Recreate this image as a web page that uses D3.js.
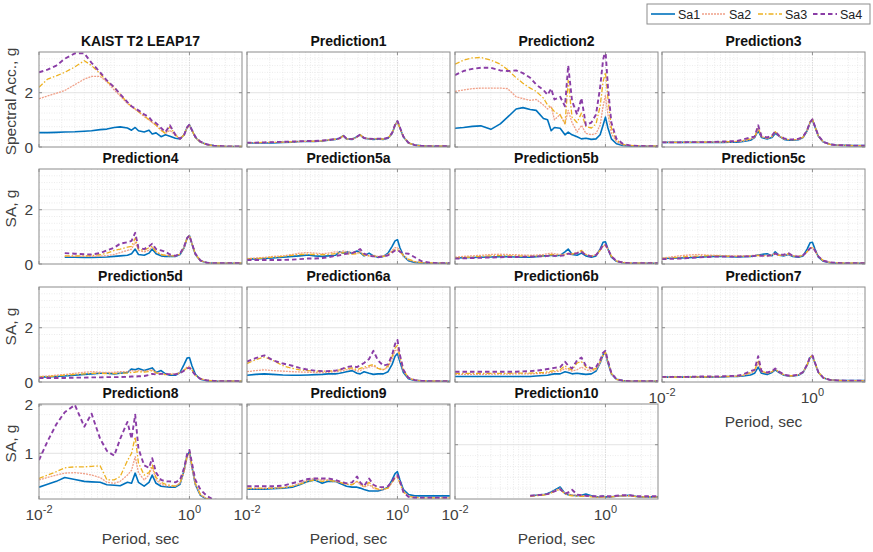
<!DOCTYPE html>
<html><head><meta charset="utf-8">
<script src="https://cdn.jsdelivr.net/npm/d3@7"></script>
<style>
html,body{margin:0;padding:0;background:#fff;}
svg{display:block;font-family:"Liberation Sans",Arial,Helvetica,sans-serif;}
</style></head>
<body><svg id="c" width="873" height="552"></svg>
<script>
// ---------------- data ----------------
const periods = [0.01,0.013,0.017,0.022,0.03,0.04,0.05,0.065,0.08,0.1,0.12,0.15,0.17,0.19,0.21,0.25,0.29,0.32,0.36,0.42,0.48,0.55,0.65,0.75,0.85,0.93,1.0,1.08,1.2,1.4,1.7,2.1,2.7,3.5,5.0];
const seriesNames = ["Sa1","Sa2","Sa3","Sa4"];
const panelTitles = ["KAIST T2 LEAP17","Prediction1","Prediction2","Prediction3",
  "Prediction4","Prediction5a","Prediction5b","Prediction5c",
  "Prediction5d","Prediction6a","Prediction6b","Prediction7",
  "Prediction8","Prediction9","Prediction10"];
const xTickValues = [0.01, 1];
const yTicksUpper = [0, 2];
const yTicksLower = [1, 2];

const kaist = [
 [0.53,0.53,0.54,0.55,0.56,0.58,0.60,0.64,0.66,0.72,0.74,0.70,0.62,0.72,0.60,0.55,0.62,0.48,0.52,0.38,0.45,0.40,0.32,0.30,0.45,0.72,0.82,0.62,0.35,0.18,0.09,0.05,0.03,0.02,0.02],
 [1.78,1.88,1.98,2.08,2.30,2.50,2.60,2.60,2.40,2.10,1.88,1.60,1.48,1.38,1.30,1.12,1.00,0.90,0.80,0.62,0.50,0.62,0.42,0.30,0.45,0.70,0.80,0.62,0.35,0.18,0.09,0.05,0.03,0.02,0.02],
 [2.20,2.50,2.62,2.75,2.95,3.18,3.00,2.70,2.42,2.20,1.95,1.62,1.50,1.40,1.30,1.15,1.00,0.92,0.80,0.62,0.50,0.75,0.45,0.30,0.45,0.72,0.80,0.62,0.35,0.18,0.09,0.05,0.03,0.02,0.02],
 [2.75,2.85,3.00,3.25,3.45,3.45,3.10,2.75,2.45,2.20,1.95,1.65,1.50,1.42,1.35,1.20,1.10,0.95,0.88,0.70,0.55,0.80,0.45,0.30,0.45,0.72,0.82,0.62,0.38,0.20,0.10,0.05,0.03,0.02,0.02]];
const pred1 = [
 [0.15,0.15,0.15,0.15,0.17,0.18,0.20,0.20,0.20,0.22,0.25,0.28,0.32,0.42,0.30,0.28,0.38,0.45,0.32,0.30,0.28,0.30,0.28,0.32,0.50,0.80,0.95,0.70,0.38,0.15,0.07,0.04,0.03,0.03,0.03],
 [0.16,0.16,0.16,0.17,0.18,0.19,0.20,0.21,0.21,0.23,0.25,0.28,0.30,0.40,0.30,0.28,0.36,0.44,0.32,0.30,0.30,0.30,0.29,0.33,0.50,0.80,0.93,0.70,0.38,0.15,0.07,0.04,0.03,0.03,0.03],
 [0.16,0.16,0.17,0.17,0.18,0.19,0.21,0.21,0.22,0.23,0.26,0.29,0.31,0.41,0.30,0.29,0.37,0.45,0.33,0.31,0.30,0.31,0.29,0.33,0.52,0.82,0.95,0.70,0.38,0.15,0.07,0.04,0.03,0.03,0.03],
 [0.16,0.16,0.17,0.18,0.19,0.20,0.21,0.22,0.22,0.24,0.26,0.29,0.32,0.43,0.31,0.29,0.38,0.46,0.33,0.31,0.30,0.31,0.30,0.34,0.52,0.82,0.96,0.72,0.38,0.16,0.07,0.04,0.03,0.03,0.03]];
const pred2 = [
 [0.69,0.72,0.76,0.78,0.65,0.85,1.10,1.40,1.45,1.38,1.35,1.05,1.00,0.60,0.72,0.69,0.45,0.55,0.45,0.38,0.30,0.32,0.28,0.30,0.45,0.80,1.10,0.70,0.30,0.12,0.06,0.04,0.03,0.03,0.03],
 [2.05,2.10,2.15,2.17,2.17,2.17,2.15,1.85,1.78,1.72,1.75,1.55,1.40,1.50,1.00,1.20,0.85,1.35,0.90,0.55,0.80,0.50,0.45,0.50,0.80,1.50,1.90,1.20,0.50,0.20,0.08,0.05,0.04,0.03,0.03],
 [3.05,3.20,3.28,3.30,3.20,3.05,2.85,2.55,2.35,2.17,2.05,1.80,1.55,1.45,1.30,1.18,0.85,2.45,1.10,0.90,1.25,0.75,0.70,0.85,1.50,2.40,2.75,1.80,0.70,0.25,0.10,0.06,0.04,0.03,0.03],
 [2.65,2.80,2.88,2.92,2.92,2.82,2.80,2.82,2.72,2.55,2.30,2.10,1.92,2.15,1.75,1.85,1.50,3.00,1.70,1.20,1.80,0.80,0.90,1.20,2.20,3.20,3.60,2.20,0.90,0.30,0.12,0.06,0.04,0.03,0.03]];
const pred3 = [
 [0.17,0.17,0.17,0.17,0.17,0.17,0.17,0.17,0.18,0.18,0.20,0.25,0.35,0.60,0.35,0.30,0.35,0.50,0.40,0.28,0.25,0.25,0.27,0.35,0.60,0.90,1.00,0.75,0.40,0.18,0.10,0.07,0.06,0.05,0.05],
 [0.17,0.17,0.17,0.17,0.17,0.18,0.18,0.18,0.19,0.20,0.22,0.28,0.35,0.65,0.38,0.32,0.38,0.55,0.40,0.30,0.27,0.27,0.28,0.36,0.60,0.90,1.00,0.75,0.40,0.18,0.10,0.07,0.06,0.05,0.05],
 [0.17,0.17,0.17,0.17,0.18,0.18,0.18,0.19,0.20,0.21,0.24,0.30,0.36,0.70,0.38,0.33,0.40,0.56,0.42,0.30,0.27,0.27,0.28,0.36,0.62,0.92,1.02,0.76,0.40,0.18,0.10,0.07,0.06,0.05,0.05],
 [0.17,0.17,0.17,0.18,0.18,0.18,0.19,0.20,0.21,0.22,0.28,0.35,0.38,0.80,0.40,0.35,0.42,0.58,0.42,0.32,0.28,0.28,0.30,0.38,0.62,0.92,1.02,0.76,0.42,0.19,0.10,0.07,0.06,0.05,0.05]];
const pred4 = [
 [null,null,null,0.25,0.25,0.24,0.24,0.25,0.26,0.28,0.30,0.32,0.38,0.55,0.35,0.32,0.40,0.55,0.38,0.30,0.28,0.28,0.28,0.35,0.60,0.95,1.05,0.75,0.35,0.12,0.05,0.03,0.03,0.03,0.03],
 [null,null,null,0.28,0.28,0.28,0.28,0.29,0.31,0.35,0.42,0.50,0.55,0.80,0.50,0.45,0.50,0.62,0.45,0.35,0.32,0.30,0.30,0.36,0.60,0.95,1.05,0.75,0.35,0.12,0.05,0.03,0.03,0.03,0.03],
 [null,null,null,0.30,0.30,0.30,0.31,0.34,0.40,0.50,0.55,0.62,0.65,0.95,0.55,0.50,0.60,0.65,0.45,0.35,0.32,0.30,0.30,0.36,0.62,0.95,1.05,0.75,0.36,0.12,0.05,0.03,0.03,0.03,0.03],
 [null,null,null,0.40,0.38,0.36,0.35,0.40,0.50,0.60,0.75,0.80,0.85,1.15,0.60,0.55,0.65,0.75,0.55,0.50,0.45,0.35,0.30,0.38,0.65,0.95,1.05,0.75,0.38,0.13,0.05,0.03,0.03,0.03,0.03]];
const pred5a = [
 [0.18,0.19,0.20,0.22,0.25,0.28,0.30,0.33,0.30,0.28,0.30,0.32,0.45,0.40,0.45,0.40,0.48,0.42,0.30,0.40,0.30,0.25,0.28,0.40,0.65,0.85,0.90,0.60,0.30,0.12,0.06,0.04,0.03,0.03,0.03],
 [0.20,0.22,0.24,0.28,0.30,0.35,0.40,0.42,0.40,0.38,0.40,0.45,0.42,0.48,0.45,0.42,0.40,0.45,0.35,0.30,0.32,0.28,0.30,0.35,0.50,0.60,0.60,0.50,0.30,0.15,0.08,0.05,0.04,0.03,0.03],
 [0.18,0.20,0.22,0.25,0.28,0.32,0.35,0.36,0.35,0.34,0.35,0.38,0.40,0.42,0.38,0.36,0.38,0.42,0.32,0.30,0.30,0.26,0.28,0.33,0.45,0.52,0.52,0.45,0.32,0.18,0.09,0.05,0.04,0.03,0.03],
 [0.15,0.15,0.15,0.15,0.15,0.16,0.18,0.20,0.20,0.22,0.25,0.30,0.32,0.35,0.38,0.40,0.48,0.55,0.38,0.30,0.28,0.25,0.28,0.32,0.42,0.50,0.52,0.45,0.40,0.38,0.25,0.10,0.05,0.03,0.03]];
const pred5b = [
 [0.22,0.23,0.24,0.25,0.26,0.27,0.27,0.26,0.25,0.25,0.27,0.30,0.30,0.32,0.30,0.32,0.45,0.55,0.35,0.32,0.40,0.30,0.25,0.30,0.55,0.80,0.82,0.55,0.25,0.10,0.05,0.03,0.03,0.03,0.03],
 [0.25,0.28,0.30,0.32,0.35,0.36,0.35,0.34,0.33,0.32,0.33,0.35,0.38,0.40,0.38,0.35,0.35,0.40,0.38,0.42,0.45,0.35,0.30,0.35,0.50,0.65,0.68,0.55,0.30,0.12,0.06,0.04,0.03,0.03,0.03],
 [0.22,0.24,0.26,0.28,0.30,0.31,0.30,0.30,0.29,0.28,0.29,0.30,0.32,0.35,0.33,0.32,0.33,0.38,0.36,0.42,0.50,0.35,0.28,0.33,0.50,0.68,0.70,0.55,0.28,0.11,0.05,0.03,0.03,0.03,0.03],
 [0.20,0.21,0.22,0.23,0.24,0.25,0.26,0.26,0.27,0.27,0.28,0.28,0.30,0.32,0.30,0.30,0.32,0.38,0.35,0.40,0.45,0.33,0.28,0.33,0.52,0.70,0.72,0.55,0.28,0.11,0.05,0.03,0.03,0.03,0.03]];
const pred5c = [
 [0.20,0.21,0.22,0.23,0.25,0.27,0.28,0.28,0.27,0.26,0.27,0.28,0.30,0.33,0.35,0.38,0.30,0.45,0.32,0.30,0.35,0.28,0.25,0.30,0.55,0.78,0.80,0.55,0.25,0.10,0.05,0.03,0.03,0.03,0.03],
 [0.22,0.26,0.30,0.33,0.35,0.33,0.32,0.31,0.30,0.30,0.30,0.31,0.32,0.33,0.32,0.32,0.33,0.40,0.33,0.32,0.35,0.30,0.28,0.32,0.45,0.58,0.62,0.50,0.28,0.12,0.06,0.04,0.03,0.03,0.03],
 [0.20,0.22,0.25,0.27,0.29,0.30,0.30,0.29,0.28,0.28,0.28,0.29,0.30,0.32,0.30,0.30,0.32,0.38,0.32,0.33,0.38,0.30,0.27,0.32,0.45,0.58,0.60,0.50,0.28,0.12,0.06,0.04,0.03,0.03,0.03],
 [0.18,0.19,0.20,0.22,0.24,0.26,0.27,0.27,0.27,0.27,0.28,0.28,0.30,0.32,0.30,0.30,0.32,0.38,0.33,0.35,0.40,0.30,0.27,0.32,0.45,0.58,0.60,0.50,0.28,0.12,0.06,0.04,0.03,0.03,0.03]];
const pred5d = [
 [0.18,0.19,0.20,0.22,0.25,0.28,0.30,0.32,0.32,0.30,0.32,0.35,0.48,0.45,0.50,0.42,0.48,0.52,0.35,0.42,0.30,0.25,0.25,0.35,0.65,0.88,0.90,0.60,0.28,0.10,0.05,0.03,0.03,0.03,0.03],
 [0.20,0.22,0.25,0.28,0.32,0.36,0.38,0.36,0.35,0.36,0.38,0.38,0.42,0.40,0.42,0.40,0.42,0.45,0.35,0.32,0.28,0.30,0.30,0.35,0.45,0.55,0.58,0.45,0.25,0.12,0.06,0.04,0.03,0.03,0.03],
 [0.18,0.20,0.22,0.25,0.28,0.30,0.32,0.32,0.31,0.31,0.32,0.33,0.35,0.36,0.38,0.36,0.38,0.42,0.33,0.30,0.27,0.28,0.28,0.33,0.42,0.52,0.55,0.45,0.25,0.12,0.06,0.04,0.03,0.03,0.03],
 [0.15,0.15,0.15,0.15,0.16,0.16,0.17,0.17,0.18,0.18,0.18,0.19,0.20,0.20,0.21,0.22,0.26,0.30,0.28,0.30,0.30,0.28,0.28,0.32,0.42,0.50,0.52,0.42,0.25,0.12,0.06,0.04,0.03,0.03,0.03]];
const pred6a = [
 [0.25,0.28,0.30,0.28,0.26,0.25,0.25,0.26,0.27,0.28,0.30,0.30,0.32,0.35,0.38,0.42,0.32,0.30,0.38,0.32,0.28,0.30,0.30,0.38,0.65,0.95,1.05,0.75,0.35,0.12,0.06,0.04,0.03,0.03,0.03],
 [0.38,0.42,0.45,0.42,0.40,0.38,0.37,0.36,0.35,0.35,0.36,0.38,0.40,0.42,0.45,0.48,0.40,0.42,0.50,0.55,0.60,0.50,0.45,0.55,0.85,1.15,1.20,0.85,0.40,0.15,0.07,0.04,0.03,0.03,0.03],
 [0.68,0.82,0.92,0.80,0.60,0.50,0.45,0.42,0.40,0.40,0.40,0.42,0.45,0.48,0.50,0.52,0.45,0.50,0.55,0.60,0.65,0.50,0.45,0.60,0.95,1.25,1.35,0.95,0.45,0.15,0.07,0.04,0.03,0.03,0.03],
 [0.75,0.88,0.98,0.80,0.68,0.60,0.52,0.45,0.42,0.40,0.40,0.42,0.45,0.50,0.55,0.58,0.55,0.62,0.70,0.85,1.15,0.80,0.60,0.65,1.00,1.40,1.55,1.00,0.45,0.16,0.07,0.04,0.03,0.03,0.03]];
const pred6b = [
 [0.20,0.20,0.20,0.20,0.20,0.20,0.20,0.20,0.20,0.20,0.22,0.24,0.25,0.28,0.30,0.30,0.38,0.35,0.30,0.32,0.30,0.28,0.30,0.40,0.70,1.00,1.08,0.70,0.30,0.10,0.05,0.03,0.03,0.03,0.03],
 [0.28,0.28,0.28,0.28,0.29,0.29,0.29,0.30,0.30,0.30,0.31,0.32,0.33,0.35,0.38,0.40,0.50,0.45,0.40,0.45,0.55,0.45,0.40,0.45,0.70,0.98,1.05,0.72,0.30,0.10,0.05,0.03,0.03,0.03,0.03],
 [0.32,0.32,0.32,0.32,0.32,0.32,0.32,0.33,0.33,0.33,0.34,0.35,0.37,0.40,0.42,0.45,0.60,0.50,0.45,0.70,0.75,0.55,0.45,0.50,0.75,1.02,1.10,0.75,0.32,0.10,0.05,0.03,0.03,0.03,0.03],
 [0.38,0.38,0.38,0.38,0.38,0.38,0.38,0.38,0.39,0.40,0.42,0.45,0.48,0.50,0.52,0.55,0.75,0.60,0.50,0.80,0.90,0.60,0.50,0.55,0.80,1.08,1.15,0.78,0.33,0.10,0.05,0.03,0.03,0.03,0.03]];
const pred7 = [
 [0.18,0.18,0.18,0.18,0.18,0.18,0.19,0.19,0.20,0.20,0.22,0.26,0.32,0.55,0.32,0.28,0.35,0.45,0.35,0.25,0.22,0.22,0.25,0.35,0.62,0.90,0.95,0.70,0.35,0.15,0.08,0.06,0.05,0.05,0.05],
 [0.18,0.18,0.18,0.18,0.18,0.19,0.19,0.20,0.20,0.21,0.24,0.32,0.40,0.70,0.38,0.32,0.38,0.48,0.36,0.26,0.23,0.23,0.26,0.36,0.62,0.90,0.95,0.70,0.35,0.15,0.08,0.06,0.05,0.05,0.05],
 [0.18,0.18,0.18,0.19,0.19,0.19,0.20,0.20,0.21,0.22,0.25,0.35,0.42,0.80,0.40,0.33,0.38,0.48,0.36,0.26,0.23,0.23,0.26,0.36,0.63,0.92,0.97,0.72,0.36,0.15,0.08,0.06,0.05,0.05,0.05],
 [0.19,0.19,0.19,0.19,0.20,0.20,0.20,0.21,0.22,0.23,0.28,0.40,0.45,0.95,0.40,0.35,0.40,0.50,0.38,0.27,0.24,0.24,0.27,0.37,0.64,0.93,0.98,0.72,0.36,0.15,0.08,0.06,0.05,0.05,0.05]];
const pred8 = [
 [0.30,0.36,0.42,0.50,0.46,0.42,0.41,0.40,0.35,0.34,0.33,0.40,0.38,0.59,0.40,0.32,0.40,0.55,0.38,0.32,0.31,0.30,0.30,0.36,0.65,0.95,1.03,0.72,0.35,0.13,0.05,0.03,0.03,0.03,0.03],
 [0.45,0.50,0.55,0.59,0.60,0.58,0.55,0.50,0.40,0.38,0.42,0.55,0.65,0.93,0.60,0.45,0.55,0.72,0.45,0.36,0.33,0.32,0.32,0.38,0.62,0.90,0.98,0.70,0.35,0.14,0.06,0.03,0.03,0.03,0.03],
 [0.48,0.55,0.62,0.70,0.72,0.72,0.73,0.74,0.45,0.45,0.52,0.85,1.00,1.34,0.80,0.55,0.60,0.76,0.50,0.40,0.36,0.34,0.32,0.38,0.65,0.95,1.05,0.75,0.38,0.15,0.06,0.03,0.03,0.03,0.03],
 [0.86,1.25,1.60,1.85,2.00,1.55,1.82,1.30,1.05,0.95,1.30,1.65,1.30,1.80,1.10,0.75,0.70,0.90,0.60,0.45,0.42,0.42,0.40,0.45,0.70,0.98,1.07,0.80,0.45,0.25,0.12,0.04,0.03,0.03,0.03]];
const pred9 = [
 [0.26,0.26,0.26,0.27,0.28,0.30,0.35,0.42,0.45,0.38,0.42,0.42,0.38,0.35,0.32,0.30,0.30,0.28,0.25,0.22,0.22,0.22,0.25,0.30,0.45,0.58,0.62,0.45,0.25,0.15,0.12,0.12,0.12,0.12,0.12],
 [0.27,0.27,0.27,0.28,0.29,0.32,0.38,0.45,0.48,0.45,0.45,0.42,0.40,0.38,0.36,0.35,0.42,0.35,0.30,0.35,0.28,0.25,0.25,0.28,0.40,0.50,0.52,0.40,0.22,0.12,0.09,0.08,0.08,0.08,0.08],
 [0.28,0.28,0.28,0.28,0.29,0.32,0.36,0.42,0.45,0.42,0.44,0.42,0.40,0.38,0.36,0.35,0.42,0.38,0.30,0.40,0.30,0.26,0.26,0.28,0.40,0.48,0.50,0.38,0.20,0.11,0.09,0.08,0.08,0.08,0.08],
 [0.32,0.32,0.32,0.32,0.33,0.38,0.42,0.47,0.48,0.48,0.48,0.45,0.42,0.40,0.38,0.40,0.52,0.40,0.32,0.48,0.35,0.30,0.30,0.32,0.42,0.52,0.55,0.42,0.20,0.10,0.08,0.08,0.08,0.08,0.08]];
const pred10 = [
 [null,null,null,null,null,null,null,null,null,0.06,0.07,0.08,0.10,0.13,0.16,0.22,0.10,0.08,0.07,0.06,0.07,0.09,0.06,0.04,0.04,0.05,0.04,0.04,0.04,0.05,0.06,0.07,0.04,0.04,0.04],
 [null,null,null,null,null,null,null,null,null,0.06,0.07,0.08,0.09,0.12,0.15,0.20,0.10,0.09,0.08,0.07,0.06,0.06,0.05,0.04,0.04,0.04,0.04,0.04,0.04,0.05,0.06,0.06,0.04,0.04,0.04],
 [null,null,null,null,null,null,null,null,null,0.05,0.06,0.07,0.08,0.11,0.14,0.18,0.09,0.07,0.06,0.05,0.05,0.05,0.04,0.03,0.03,0.04,0.04,0.04,0.04,0.05,0.06,0.06,0.04,0.04,0.04],
 [null,null,null,null,null,null,null,null,null,0.06,0.07,0.08,0.09,0.12,0.14,0.18,0.10,0.12,0.17,0.08,0.07,0.06,0.05,0.05,0.05,0.05,0.05,0.05,0.05,0.06,0.07,0.07,0.05,0.05,0.05]];

const panelData = [kaist,pred1,pred2,pred3,pred4,pred5a,pred5b,pred5c,pred5d,pred6a,pred6b,pred7,pred8,pred9,pred10];

// ---------------- layout / style ----------------
const colors = ["#0072BD","#F0A088","#EDB120","#8A3DA6"];
const widths = [1.6,1.3,1.3,1.9];
const dashes = [null,"2,1","5,2,1.5,2","4.5,3"];
const colLeft = [39,247,455,662];
const rowTop = [52,169,287,404];
const pw = 203, ph = 95;
const font = "'Liberation Sans', Arial, Helvetica, sans-serif";
const textCol = "#404040";
const axFont = 15.5;

const svg = d3.select("#c");

function supLabel(sel, base, sup){
  sel.append("tspan").text(base);
  sel.append("tspan").attr("dy",-7).attr("font-size",11).text(sup);
}

panelData.forEach((data, i) => {
  const r = Math.floor(i/4), c = i%4;
  const x0 = colLeft[c], y0 = rowTop[r];
  const x = d3.scaleLog().domain([0.01,5]).range([0,pw]);
  let yDom, yTicks, yMinorStep;
  if (r < 3) { yDom = [0,3.5]; yTicks = yTicksUpper; yMinorStep = 0.25; }
  else if (i === 14) { yDom = [0,1.75]; yTicks = [1]; yMinorStep = 0.2; }
  else { yDom = [0.055,2.02]; yTicks = yTicksLower; yMinorStep = 0.2; }
  const y = d3.scaleLinear().domain(yDom).range([ph,0]);
  const g = svg.append("g").attr("transform",`translate(${x0},${y0})`);

  g.append("rect").attr("width",pw).attr("height",ph).attr("fill","#fff");

  // minor grid vertical
  const minorX = [];
  [0.01,0.1,1].forEach(dec => { for (let k=1;k<=9;k++){ const v=dec*k; if (v>0.01 && v<5 && v!==1) minorX.push(v);} });
  g.selectAll(".mgx").data(minorX).enter().append("line")
    .attr("x1",d=>x(d)).attr("x2",d=>x(d)).attr("y1",0).attr("y2",ph)
    .attr("stroke","#e3e3e3").attr("stroke-width",0.7).attr("stroke-dasharray","1,1.5");
  // minor grid horizontal
  const minorY = d3.range(Math.ceil(yDom[0]/yMinorStep)*yMinorStep, yDom[1], yMinorStep)
      .filter(v => !yTicks.some(t => Math.abs(t-v)<1e-6) && v>yDom[0]);
  g.selectAll(".mgy").data(minorY).enter().append("line")
    .attr("x1",0).attr("x2",pw).attr("y1",d=>y(d)).attr("y2",d=>y(d))
    .attr("stroke","#e3e3e3").attr("stroke-width",0.7).attr("stroke-dasharray","1,1.5");
  // major grid
  g.append("line").attr("x1",x(1)).attr("x2",x(1)).attr("y1",0).attr("y2",ph)
    .attr("stroke","#cfcfcf").attr("stroke-width",0.8).attr("stroke-dasharray","1.5,1");
  g.selectAll(".gy").data(yTicks.filter(t=>t>yDom[0] && t<yDom[1]-0.01)).enter().append("line")
    .attr("x1",0).attr("x2",pw).attr("y1",d=>y(d)).attr("y2",d=>y(d))
    .attr("stroke","#dcdcdc").attr("stroke-width",0.8);

  // lines
  const clipId = "clip"+i;
  g.append("clipPath").attr("id",clipId).append("rect").attr("width",pw).attr("height",ph);
  const line = d3.line().defined(d => d[1] !== null)
     .x(d => x(d[0])).y(d => y(d[1]));
  const lg = g.append("g").attr("clip-path",`url(#${clipId})`);
  data.forEach((s, k) => {
    const pts = periods.map((p,j) => [p, s[j]]);
    lg.append("path").attr("d", line(pts)).attr("fill","none")
      .attr("stroke",colors[k]).attr("stroke-width",widths[k])
      .attr("stroke-dasharray",dashes[k]).attr("stroke-linejoin","round");
  });

  // ticks (inside)
  yTicks.forEach(t => {
    if (t < yDom[0] || t > yDom[1]+0.05) return;
    const yy = y(Math.min(t,yDom[1]));
    g.append("line").attr("x1",0).attr("x2",3).attr("y1",yy).attr("y2",yy).attr("stroke","#777").attr("stroke-width",0.8);
    g.append("line").attr("x1",pw-3).attr("x2",pw).attr("y1",yy).attr("y2",yy).attr("stroke","#777").attr("stroke-width",0.8);
  });
  xTickValues.forEach(t => {
    const xx = x(t);
    g.append("line").attr("x1",xx).attr("x2",xx).attr("y1",ph).attr("y2",ph-3).attr("stroke","#777").attr("stroke-width",0.8);
    g.append("line").attr("x1",xx).attr("x2",xx).attr("y1",0).attr("y2",3).attr("stroke","#777").attr("stroke-width",0.8);
  });

  // frame
  g.append("rect").attr("width",pw).attr("height",ph).attr("fill","none")
    .attr("stroke","#8c8c8c").attr("stroke-width",1);

  // title
  g.append("text").attr("x",pw/2).attr("y",-6).attr("text-anchor","middle")
    .attr("font-family",font).attr("font-weight","bold").attr("font-size",14)
    .attr("fill","#111").text(panelTitles[i]);

  // y tick labels (first column)
  if (c === 0) {
    yTicks.forEach(t => {
      g.append("text").attr("x",-6).attr("y",y(Math.min(t,yDom[1]))+5.5).attr("text-anchor","end")
       .attr("font-family",font).attr("font-size",axFont).attr("fill",textCol).text(t);
    });
    const lbl = r === 0 ? "Spectral Acc., g" : "SA, g";
    const cy = r === 0 ? ph/2 + 2 : ph/2 - 8;
    g.append("text").attr("transform",`translate(${16-x0},${cy}) rotate(-90)`)
      .attr("text-anchor","middle").attr("font-family",font).attr("font-size",axFont)
      .attr("fill",textCol).text(lbl);
  }

  // x tick labels & axis label on bottom panels
  if (r === 3 || i === 11) {
    xTickValues.forEach(t => {
      const tx = g.append("text").attr("x",x(t)).attr("y",ph+21).attr("text-anchor","middle")
        .attr("font-family",font).attr("font-size",axFont).attr("fill",textCol);
      supLabel(tx, "10", t === 1 ? "0" : "-2");
    });
    g.append("text").attr("x",pw/2).attr("y",ph+45).attr("text-anchor","middle")
      .attr("font-family",font).attr("font-size",axFont).attr("fill",textCol).text("Period, sec");
  }
});

// legend
const leg = svg.append("g");
leg.append("rect").attr("x",647).attr("y",4).attr("width",223).attr("height",20)
  .attr("fill","#fff").attr("stroke","#8c8c8c").attr("stroke-width",1);
const legX = [651,702,758,813];
seriesNames.forEach((nm,k) => {
  leg.append("line").attr("x1",legX[k]).attr("x2",legX[k]+24).attr("y1",14).attr("y2",14)
    .attr("stroke",colors[k]).attr("stroke-width",widths[k]).attr("stroke-dasharray",dashes[k]);
  leg.append("text").attr("x",legX[k]+27).attr("y",18.5).attr("font-family",font)
    .attr("font-size",12.5).attr("fill","#222").text(nm);
});
</script>
</body></html>
